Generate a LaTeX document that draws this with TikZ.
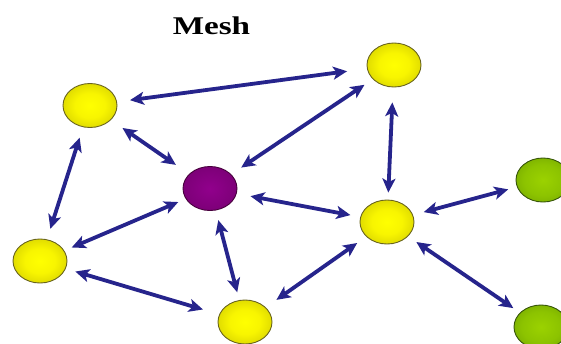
\documentclass[tikz,border=0pt]{standalone}
\usepackage{fontspec}
\setmainfont{Liberation Serif}
\usetikzlibrary{shapes.geometric,arrows.meta}
\definecolor{arrowblue}{RGB}{38,36,140}
\definecolor{yrim}{RGB}{105,100,30}
\definecolor{prim}{RGB}{70,0,60}
\definecolor{grim}{RGB}{55,85,10}
\pgfdeclareradialshading{yballsh}{\pgfpoint{0bp}{0bp}}{color(0bp)=(rgb,255:red,255;green,255;blue,0); color(14bp)=(rgb,255:red,248;green,245;blue,0); color(30bp)=(rgb,255:red,215;green,210;blue,0); color(42bp)=(rgb,255:red,180;green,175;blue,0); color(50bp)=(rgb,255:red,135;green,130;blue,10)}
\pgfdeclareradialshading{pballsh}{\pgfpoint{0bp}{0bp}}{color(0bp)=(rgb,255:red,145;green,0;blue,140); color(25bp)=(rgb,255:red,125;green,0;blue,120); color(40bp)=(rgb,255:red,100;green,0;blue,95); color(50bp)=(rgb,255:red,65;green,0;blue,60)}
\pgfdeclareradialshading{gballsh}{\pgfpoint{0bp}{0bp}}{color(0bp)=(rgb,255:red,155;green,210;blue,0); color(18bp)=(rgb,255:red,140;green,195;blue,0); color(36bp)=(rgb,255:red,110;green,160;blue,0); color(50bp)=(rgb,255:red,60;green,95;blue,0)}
\begin{document}
\begin{tikzpicture}[x=1pt,y=-1pt,
  ball/.style={ellipse, minimum width=54pt, minimum height=44pt, inner sep=0pt, line width=0.9pt},
  yball/.style={ball, draw=yrim, shading=yballsh},
  pball/.style={ball, draw=prim, shading=pballsh},
  gball/.style={ball, draw=grim, shading=gballsh},
  link/.style={draw=arrowblue, line width=3.8pt,
    {Stealth[length=14pt,width=13pt,inset=3.5pt]}-{Stealth[length=14pt,width=13pt,inset=3.5pt]}},
  titletext/.style={font=\bfseries\fontsize{25.5}{26}\selectfont, inner sep=0pt, anchor=base}]
\useasboundingbox (0,0) rectangle (561,343);
\fill[white] (0,0) rectangle (561,343);
\clip (0,0) rectangle (561,343);
\node[titletext] (title) at (211.5,34) {\scalebox{1.3}[1]{Mesh}};
\node[yball] (A) at (90,105.5) {};
\node[yball] (B) at (394,65) {};
\node[pball] (C) at (210,188.5) {};
\node[yball] (D) at (387,222) {};
\node[yball] (E) at (40,261) {};
\node[yball] (F) at (245,322) {};
\node[gball] (G) at (543,180) {};
\node[gball] (H) at (541,327) {};
\draw[link, shorten <=13pt, shorten >=20pt] (A) -- (B);
\draw[link, shorten <=14pt, shorten >=16pt] (A) -- (C);
\draw[link, shorten <=10pt, shorten >=12pt] (B) -- (C);
\draw[link, shorten <=11pt, shorten >=11pt] (A) -- (E);
\draw[link, shorten <=15pt, shorten >=7pt] (B) -- (D);
\draw[link, shorten <=8pt, shorten >=8pt] (C) -- (E);
\draw[link, shorten <=14pt, shorten >=10pt] (C) -- (D);
\draw[link, shorten <=10pt, shorten >=8pt] (C) -- (F);
\draw[link, shorten <=10pt, shorten >=17pt] (E) -- (F);
\draw[link, shorten <=13pt, shorten >=11pt] (F) -- (D);
\draw[link, shorten <=11pt, shorten >=9pt] (D) -- (G);
\draw[link, shorten <=10pt, shorten >=8pt] (D) -- (H);
\end{tikzpicture}
\end{document}
